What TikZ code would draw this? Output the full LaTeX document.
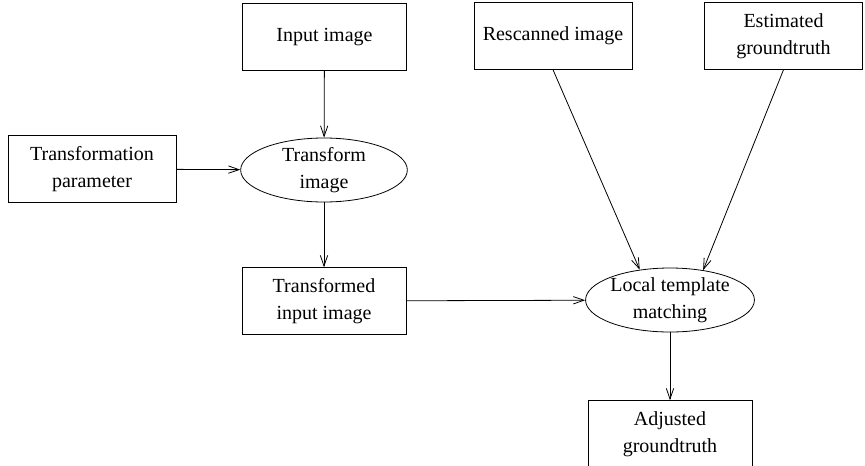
\documentclass[tikz,border=0pt]{standalone}
\usepackage{fontspec}
\setmainfont{Liberation Serif}
\usepackage{tikz}
\usetikzlibrary{arrows.meta,shapes.geometric}

\begin{document}
\begin{tikzpicture}[x=0.75pt,y=-0.75pt,
  stepbox/.style={draw,align=center,inner sep=0pt,font=\fontsize{15}{20}\selectfont,minimum width=#1,minimum height=50pt},
  stepbox/.default=123pt,
  proc/.style={draw,ellipse,align=center,inner sep=0pt,font=\fontsize{15}{20}\selectfont,minimum width=125pt,minimum height=48pt},
  line width=0.6pt,
  >={Straight Barb[length=8pt,width=5.5pt]}]
\useasboundingbox (0,0) rectangle (865,465);
\node[stepbox] (inimg) at (324.5,37) {Input image};
\node[stepbox=118.5pt] (rescan) at (553,36) {Rescanned image};
\node[stepbox=119pt] (estim) at (783.5,36) {Estimated\\ groundtruth};
\node[stepbox=126pt] (param) at (92,169) {Transformation\\ parameter};
\node[proc] (trimg) at (324,170) {Transform\\ image};
\node[stepbox] (trfd) at (324,301) {Transformed\\ input image};
\node[proc] (ltm) at (670,300) {Local template\\ matching};
\node[stepbox] (adj) at (670,434) {Adjusted\\ groundtruth};
\draw[->] (inimg) -- (trimg);
\draw[->] (param) -- (trimg);
\draw[->] (trimg) -- (trfd);
\draw[->] (trfd) -- (ltm);
\draw[->] (rescan.south) -- (ltm.135);
\draw[->] (estim.south) -- (ltm.42);
\draw[->] (ltm) -- (adj);
\end{tikzpicture}
\end{document}
